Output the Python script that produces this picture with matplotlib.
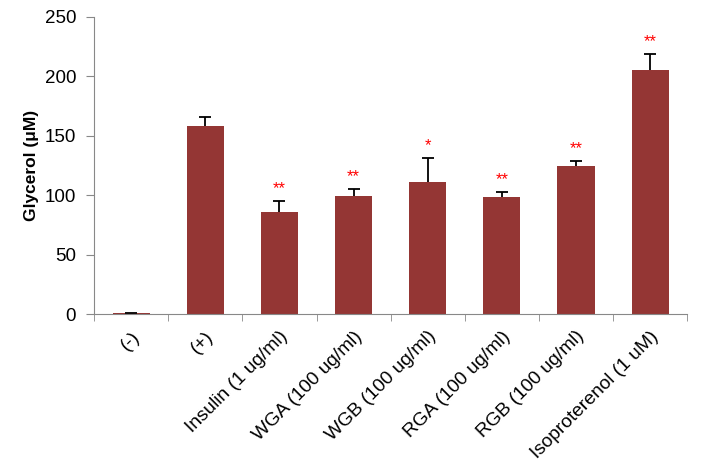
import matplotlib
matplotlib.use("Agg")
import matplotlib.pyplot as plt
import numpy as np

plt.rcParams['font.family'] = ['Liberation Sans', 'DejaVu Sans']

# data
labels = ['(-)', '(+)', 'Insulin (1 ug/ml)', 'WGA (100 ug/ml)', 'WGB (100 ug/ml)',
          'RGA (100 ug/ml)', 'RGB (100 ug/ml)', 'Isoproterenol (1 uM)']
glycerol = [0.5, 158, 86, 99.5, 111, 98.5, 124.5, 205.5]
errors = [0.5, 8, 9, 5.5, 20, 4, 4.5, 13.5]
stars = ['', '', '**', '**', '*', '**', '**', '**']

fig = plt.figure(figsize=(7.02, 4.68), dpi=100)
ax = fig.add_axes([0.134, 0.329, 0.845, 0.635])

x = np.arange(len(labels))
vals = np.array(glycerol)
tops = vals + np.array(errors)
ax.bar(x, vals, width=0.5, color='#943634')

# upper-only error bars with a single cap
ax.vlines(x, vals, tops, color='black', linewidth=1.3)
ax.plot(x, tops, linestyle='none', marker='_', markersize=8,
        markeredgewidth=1.3, color='black')

for xi, top, s in zip(x, tops, stars):
    if s:
        ax.text(xi, top + 4, s, color='red', ha='center', va='bottom',
                fontsize=12)

ax.set_xlim(-0.5, len(labels) - 0.5)
ax.set_ylim(0, 250)
ax.set_yticks([0, 50, 100, 150, 200, 250])
ax.set_xticks(x)
ax.set_xticklabels(labels, rotation=45, ha='right', rotation_mode='anchor',
                   fontsize=13.8)
ax.set_xticks(np.arange(-0.5, len(labels)), minor=True)
ax.tick_params(axis='x', which='major', length=0, pad=10)
ax.tick_params(axis='x', which='minor', length=5, color='#888888')
ax.tick_params(axis='y', labelsize=13.5, length=6, pad=7, color='#888888')

ax.set_ylabel('Glycerol (μM)', fontsize=12.5, fontweight='bold', labelpad=4)

for side in ['top', 'right']:
    ax.spines[side].set_visible(False)
for side in ['left', 'bottom']:
    ax.spines[side].set_color('#888888')

fig.savefig('out.png', dpi=100)
